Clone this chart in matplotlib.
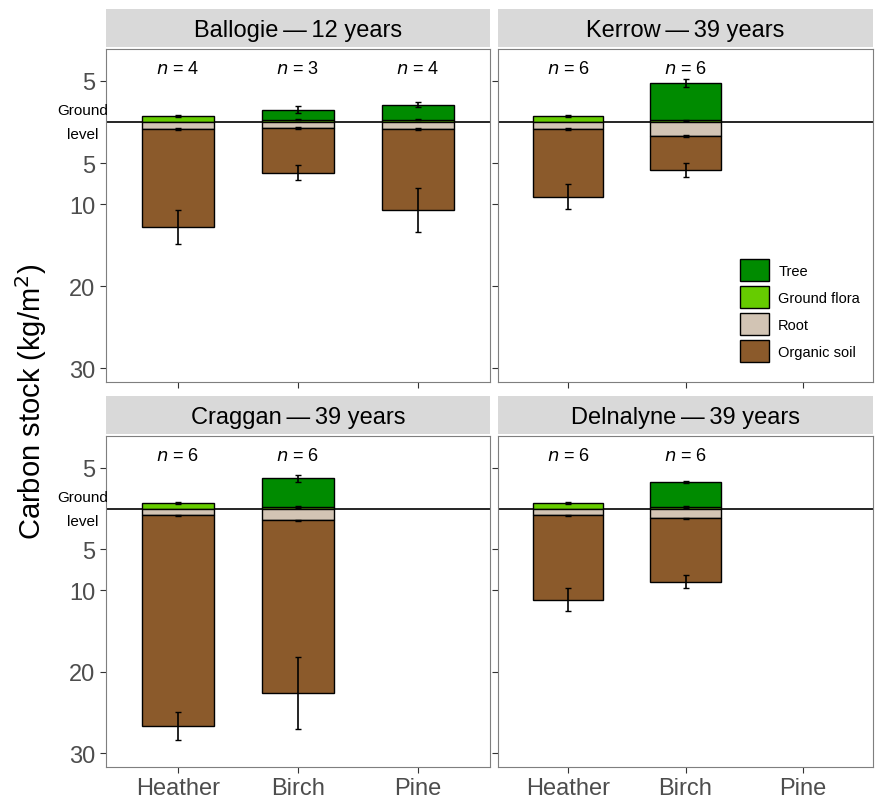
import matplotlib
matplotlib.use("Agg")
import matplotlib.pyplot as plt
from matplotlib.patches import Patch

plt.rcParams['font.family'] = ['Liberation Sans', 'DejaVu Sans']

sites = ["Ballogie\u2009\u2014\u200912 years", "Kerrow\u2009\u2014\u200939 years",
         "Craggan\u2009\u2014\u200939 years", "Delnalyne\u2009\u2014\u200939 years"]
categories = ["Heather", "Birch", "Pine"]
flora = [[0.7, 0.3, 0.3], [0.7, 0.2, None], [0.7, 0.2, None], [0.7, 0.2, None]]
tree = [[0.0, 1.2, 1.8], [0.0, 4.55, None], [0.0, 3.5, None], [0.0, 3.05, None]]
root = [[0.85, 0.7, 0.85], [0.85, 1.7, None], [0.85, 1.45, None], [0.85, 1.2, None]]
soil = [[11.95, 5.5, 9.85], [8.25, 4.15, None], [25.85, 21.15, None], [10.35, 7.8, None]]
flora_err = [[0.15, 0.1, 0.1], [0.1, 0.1, None], [0.1, 0.1, None], [0.1, 0.1, None]]
tree_err = [[0, 0.4, 0.3], [0, 0.5, None], [0, 0.4, None], [0, 0.15, None]]
root_err = [[0.1, 0.1, 0.1], [0.1, 0.15, None], [0.1, 0.1, None], [0.1, 0.1, None]]
soil_err = [[2.1, 0.9, 2.7], [1.5, 0.9, None], [1.7, 4.4, None], [1.4, 0.8, None]]
n_labels = [[4, 3, 4], [6, 6, None], [6, 6, None], [6, 6, None]]

c_tree, c_flora, c_root, c_soil = "#008b00", "#66cc00", "#d2c4b4", "#8b5a2b"

W, H = 876, 804
fig = plt.figure(figsize=(W / 100, H / 100), dpi=100)
panels = [(106, 50, 490, 383), (498, 50, 873, 383), (106, 437, 490, 768), (498, 437, 873, 768)]
strips = [(10, 48), (10, 48), (397, 435), (397, 435)]

for i, (x0, y0, x1, y1) in enumerate(panels):
    ax = fig.add_axes([x0 / W, 1 - y1 / H, (x1 - x0) / W, (y1 - y0) / H])
    sy0, sy1 = strips[i]
    sax = fig.add_axes([x0 / W, 1 - sy1 / H, (x1 - x0) / W, (sy1 - sy0) / H])
    sax.set_facecolor("#d9d9d9")
    sax.set_xticks([]); sax.set_yticks([])
    for s in sax.spines.values():
        s.set_visible(False)
    sax.text(0.5, 0.45, sites[i], ha="center", va="center", fontsize=17, transform=sax.transAxes)

    ax.set_xlim(-0.6, 2.6)
    ax.set_ylim(-31.7, 8.9)
    ax.axhline(0, color="black", lw=1.2, zorder=1)
    for j in range(3):
        if soil[i][j] is None:
            continue
        kw = dict(width=0.6, edgecolor="black", linewidth=1, zorder=2)
        ax.bar(j, flora[i][j], bottom=0, color=c_flora, **kw)
        if tree[i][j] > 0:
            ax.bar(j, tree[i][j], bottom=flora[i][j], color=c_tree, **kw)
        ax.bar(j, -root[i][j], bottom=0, color=c_root, **kw)
        ax.bar(j, -soil[i][j], bottom=-root[i][j], color=c_soil, **kw)
        ekw = dict(color="black", capsize=2.5, lw=1.2, zorder=3, fmt="none")
        ax.errorbar(j, flora[i][j], yerr=flora_err[i][j], **ekw)
        if tree[i][j] > 0:
            ax.errorbar(j, flora[i][j] + tree[i][j], yerr=tree_err[i][j], **ekw)
        ax.errorbar(j, -root[i][j], yerr=root_err[i][j], **ekw)
        ax.errorbar(j, -root[i][j] - soil[i][j], yerr=soil_err[i][j], **ekw)
        ax.text(j, 6.5, f"$n$ = {n_labels[i][j]}", ha="center", va="center", fontsize=13)
    ax.set_yticks([5, -5, -10, -20, -30])
    ax.set_xticks(range(3))
    if i in (0, 2):
        ax.set_yticklabels(["5", "5", "10", "20", "30"], fontsize=17, color="#4d4d4d")
        ax.text(-23 / (x1 - x0), 0, "Ground\nlevel", transform=ax.get_yaxis_transform(),
                ha="center", va="center", fontsize=11, linespacing=1.9)
    else:
        ax.set_yticklabels([])
    if i in (2, 3):
        ax.set_xticklabels(categories, fontsize=17, color="#4d4d4d")
    else:
        ax.set_xticklabels([])
    ax.tick_params(length=4, color="#333333")
    for s in ax.spines.values():
        s.set_color("#7f7f7f")
    if i == 1:
        handles = [Patch(facecolor=c, edgecolor="black", label=l) for c, l in
                   [(c_tree, "Tree"), (c_flora, "Ground flora"), (c_root, "Root"), (c_soil, "Organic soil")]]
        ax.legend(handles=handles, loc="lower right", bbox_to_anchor=(1.0, 0.02), frameon=False,
                  fontsize=10.5, handlelength=2.0, handleheight=2.0, labelspacing=0.3,
                  handletextpad=0.6)

fig.text(0.035, 0.5, "Carbon stock (kg/m$^2$)", rotation=90, ha="center", va="center", fontsize=21)
fig.savefig("out.png", dpi=100)
